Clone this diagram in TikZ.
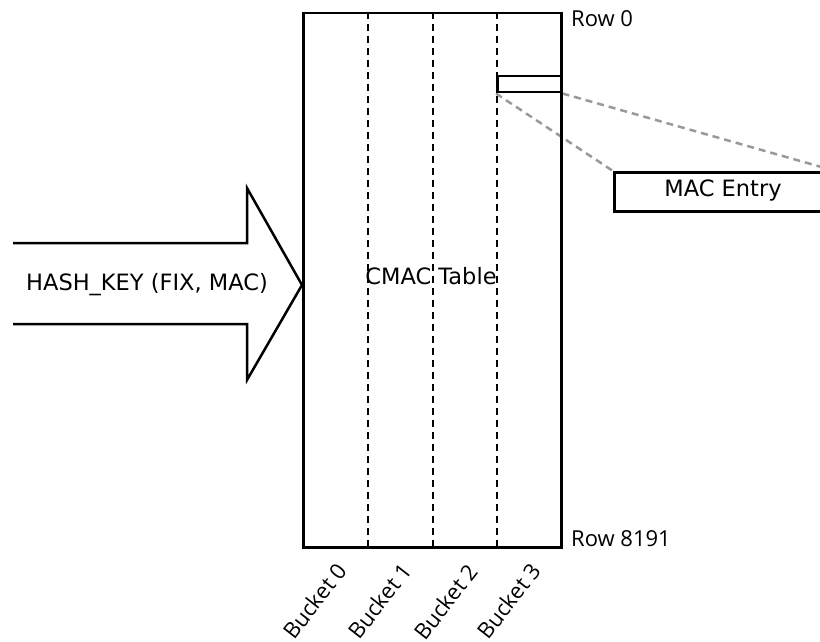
\documentclass[tikz,border=0pt]{standalone}
\usepackage{fontspec}
\setmainfont{DejaVu Sans}
\newfontfamily\sidefont{Open Sans}
\begin{document}
\begin{tikzpicture}[x=1pt,y=-1pt,
  font=\fontsize{22.5}{27}\selectfont,
  frame/.style={draw=black, line width=2.5pt, inner sep=0pt},
  divider/.style={draw=black, line width=2.5pt, dash pattern=on 7pt off 5pt},
  zoomline/.style={draw=black!40, line width=2.5pt, dash pattern=on 7pt off 5pt},
  bigarrow/.style={draw=black, line width=2.5pt, line join=miter},
  lbl/.style={inner sep=0pt},
  sidelbl/.style={inner sep=0pt, font=\sidefont\fontsize{22}{26}\selectfont},
  bucketlbl/.style={sidelbl, rotate=52, anchor=east}]
\useasboundingbox (0,0) rectangle (820,642);
% zoomed entry and its callout
\node[frame, minimum width=64pt, minimum height=16pt, anchor=north west] (entry) at (496,75) {};
\node[frame, fill=white, minimum width=220pt, minimum height=39pt, anchor=north west] (macentry) at (613,171) {};
\node[lbl] (mactext) at (723,190) {MAC Entry};
\draw[zoomline] (entry.south west) -- (macentry.north west);
\draw[zoomline] (entry.south east) -- (macentry.north east);
% table
\node[frame, minimum width=258pt, minimum height=534pt, anchor=north west] (table) at (302,12) {};
\draw[divider] (table.north west) ++(66,0) coordinate (d1t) -- ++(0,534) coordinate (d1b);
\draw[divider] (table.north west) ++(131,0) coordinate (d2t) -- ++(0,534) coordinate (d2b);
\draw[divider] (table.north west) ++(195,0) coordinate (d3t) -- ++(0,534) coordinate (d3b);
\node[frame, minimum width=64pt, minimum height=16pt, anchor=north west] (entry2) at (496,75) {};
\node[lbl] (cmac) at (431,276) {CMAC Table};
% row labels
\node[sidelbl, anchor=base west] (row0) at (571,27) {Row 0};
\node[sidelbl, anchor=base west] (rowlast) at (571,546) {Row 8191};
% bucket labels
\node[bucketlbl] (b0) at (342,566) {Bucket 0};
\node[bucketlbl] (b1) at (407,566) {Bucket 1};
\node[bucketlbl] (b2) at (473,567) {Bucket 2};
\node[bucketlbl] (b3) at (536,566) {Bucket 3};
% input arrow
\coordinate (tip) at (table.west |- 0,285);
\draw[bigarrow] (13,243) -- (247,243) -- (247,188) -- (tip) -- (247,380) -- (247,324) -- (13,324);
\node[lbl] (hash) at (147,285) {HASH\_KEY (FIX, MAC)};
\end{tikzpicture}
\end{document}
